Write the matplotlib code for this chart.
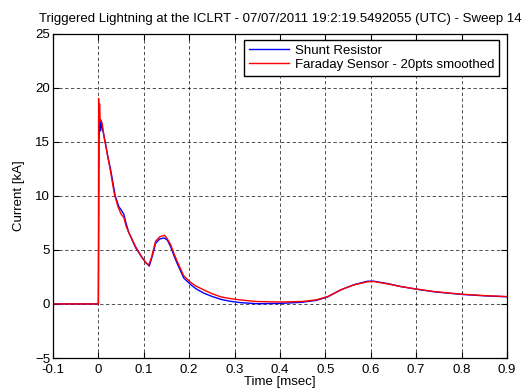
import numpy as np
from matplotlib import pyplot as plt

plt.rcParams['font.family'] = ['Liberation Sans', 'DejaVu Sans']

# time in msec, current in kA
shunt_t = [-0.1, 0.0, 0.0008, 0.0015, 0.003, 0.005, 0.007, 0.009, 0.012, 0.015,
           0.02, 0.027, 0.037, 0.045, 0.05, 0.056, 0.06, 0.067, 0.082, 0.096,
           0.105, 0.112, 0.118, 0.126, 0.135, 0.145, 0.152, 0.159, 0.168, 0.174,
           0.188, 0.203, 0.215, 0.232, 0.25, 0.27, 0.29, 0.313, 0.35, 0.40,
           0.448, 0.48, 0.505, 0.534, 0.563, 0.593, 0.607, 0.637, 0.667, 0.703,
           0.74, 0.80, 0.85, 0.90]
shunt_i = [0.0, 0.0, 7.5, 15.5, 16.9, 16.0, 16.8, 16.2, 15.6, 15.0,
           13.8, 12.4, 10.0, 9.0, 8.7, 8.3, 7.6, 6.6, 5.2, 4.3,
           3.8, 3.5, 4.3, 5.6, 6.0, 6.1, 5.9, 5.3, 4.3, 3.7,
           2.4, 1.8, 1.4, 1.0, 0.7, 0.42, 0.25, 0.12, 0.02, 0.05,
           0.15, 0.33, 0.65, 1.3, 1.78, 2.1, 2.1, 1.88, 1.6, 1.35,
           1.12, 0.88, 0.75, 0.66]

faraday_t = [-0.1, 0.0, 0.0005, 0.0015, 0.0025, 0.004, 0.006, 0.009, 0.013, 0.019,
             0.027, 0.035, 0.043, 0.05, 0.056, 0.061, 0.067, 0.082, 0.096, 0.105,
             0.111, 0.117, 0.126, 0.135, 0.146, 0.152, 0.159, 0.168, 0.174, 0.188,
             0.203, 0.215, 0.232, 0.25, 0.27, 0.29, 0.313, 0.35, 0.40, 0.448,
             0.48, 0.505, 0.534, 0.563, 0.593, 0.607, 0.637, 0.667, 0.703, 0.74,
             0.80, 0.85, 0.90]
faraday_i = [0.0, 0.0, 19.0, 16.5, 18.5, 16.9, 17.0, 16.5, 15.3, 14.0,
             12.2, 10.2, 9.0, 8.3, 8.0, 7.2, 6.6, 5.3, 4.3, 3.8,
             3.6, 4.3, 5.8, 6.2, 6.35, 6.0, 5.5, 4.5, 3.9, 2.6,
             2.0, 1.65, 1.3, 0.95, 0.65, 0.5, 0.37, 0.22, 0.18, 0.22,
             0.38, 0.68, 1.3, 1.76, 2.05, 2.07, 1.85, 1.6, 1.36, 1.14,
             0.9, 0.77, 0.68]

xticks = np.arange(-0.1, 0.91, 0.1)
xlabels = ['-0.1', '0', '0.1', '0.2', '0.3', '0.4', '0.5', '0.6', '0.7', '0.8', '0.9']
yticks = [-5, 0, 5, 10, 15, 20, 25]

fs = 9.5

fig = plt.figure(figsize=(5.22, 3.92), dpi=100)
ax = fig.add_axes([0.1015, 0.0867, 0.8697, 0.8278])

ax.plot(shunt_t, shunt_i, color='#0000ff', lw=1.0, label='Shunt Resistor')
ax.plot(faraday_t, faraday_i, color='#ff0000', lw=1.0,
        label='Faraday Sensor - 20pts smoothed')

ax.set_xlim(-0.1, 0.9)
ax.set_ylim(-5, 25)
ax.set_xticks(xticks)
ax.set_xticklabels(xlabels)
ax.set_yticks(yticks)
ax.tick_params(direction='in', top=True, right=True, labelsize=fs,
               length=4, width=0.8)
ax.tick_params(axis='x', pad=4.5)
ax.tick_params(axis='y', pad=2)
ax.grid(True, color='black', linestyle=(0, (4, 3)), linewidth=0.6, alpha=0.8)
for s in ax.spines.values():
    s.set_linewidth(0.9)

ax.set_xlabel('Time [msec]', fontsize=fs, labelpad=0)
ax.set_ylabel('Current [kA]', fontsize=fs)
ax.yaxis.set_label_coords(-0.062, 0.5)
ax.set_title('Triggered Lightning at the ICLRT - 07/07/2011 19:2:19.5492055 (UTC) - Sweep 14',
             fontsize=fs, pad=8)

leg = ax.legend(loc='upper right', bbox_to_anchor=(0.983, 0.98), borderaxespad=0,
                fontsize=fs, fancybox=False, framealpha=1, edgecolor='black',
                handlelength=3.0, handletextpad=0.5, borderpad=0.35,
                labelspacing=0.15)
leg.get_frame().set_linewidth(1.0)

fig.savefig('out.png')
